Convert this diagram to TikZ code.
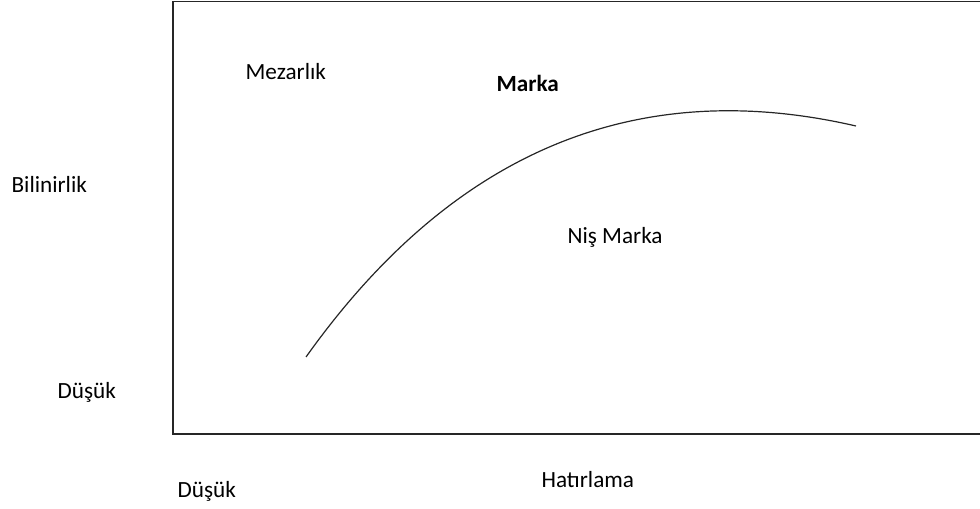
\documentclass[tikz,border=0pt]{standalone}
\usepackage{fontspec}
\setmainfont{Carlito}

\begin{document}
\begin{tikzpicture}[x=0.75pt, y=-0.75pt, line width=0.9pt,
    every node/.style={font=\fontsize{17.4}{20}\selectfont, anchor=base west, inner sep=0pt}]
          \useasboundingbox (0,0) rectangle (980,509);
          % Frame (right edge runs past the page)
          \begin{scope}
            \clip (0,0) rectangle (980,509);
            \draw[black!85] (173,1.5) rectangle (990,434);
          \end{scope}
          % Curve
          \draw[black!85] (306,357) .. controls (452,152) and (635,75) .. (856,126);
          % Regions
          \node (mezarlik) at (245,80) {Mezarlık};
          \node[font=\fontsize{17.4}{20}\selectfont\bfseries] (marka) at (496,92) {Marka};
          \node (nis) at (567,244) {Niş Marka};
          % Axis labels
          \node (bilinirlik) at (11,193) {Bilinirlik};
          \node (dusuky) at (57,398) {Düşük};
          \node (dusukx) at (177,497) {Düşük};
          \node (hatirlama) at (541,487) {Hatırlama};
        \end{tikzpicture}
\end{document}
